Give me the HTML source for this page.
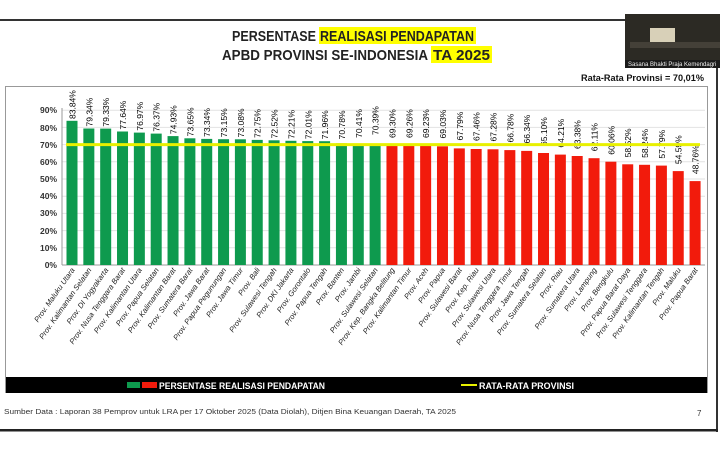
<!DOCTYPE html>
<html><head><meta charset="utf-8"><style>
html,body{margin:0;padding:0;background:#fff;}
body{width:720px;height:450px;overflow:hidden;position:relative;font-family:"Liberation Sans",sans-serif;}
svg{position:absolute;left:0;top:0;}
</style></head><body>
<svg width="720" height="450" viewBox="0 0 720 450" xmlns="http://www.w3.org/2000/svg" font-family="Liberation Sans, sans-serif">
<rect x="0" y="19" width="720" height="2" fill="#333"/>
<rect x="716" y="19" width="2" height="413" fill="#333"/>
<rect x="0" y="429" width="718" height="2.5" fill="#222"/>
<!-- webcam -->
<rect x="625" y="14" width="95" height="54" fill="#2c2a24"/>
<rect x="650" y="28" width="25" height="18" fill="#d8d0b8"/>
<rect x="630" y="42" width="90" height="6" fill="#444038"/>
<rect x="625" y="60" width="95" height="8" fill="#1a1a1a"/>
<text x="628" y="66" font-size="6" fill="#eee">Sasana Bhakti Praja Kemendagri</text>
<!-- title -->
<rect x="319" y="27" width="157" height="17" fill="#ffff00"/>
<rect x="431" y="46" width="61" height="17" fill="#ffff00"/>
<g font-size="15" font-weight="bold" fill="#222">
<text x="232" y="41" textLength="84" lengthAdjust="spacingAndGlyphs">PERSENTASE</text>
<text x="320" y="41" textLength="154" lengthAdjust="spacingAndGlyphs">REALISASI PENDAPATAN</text>
<text x="222" y="60" textLength="206" lengthAdjust="spacingAndGlyphs">APBD PROVINSI SE-INDONESIA</text>
<text x="433" y="60" textLength="57" lengthAdjust="spacingAndGlyphs">TA 2025</text>
</g>
<text x="581" y="81" font-size="9.5" font-weight="bold" fill="#111" textLength="123" lengthAdjust="spacingAndGlyphs">Rata-Rata Provinsi = 70,01%</text>
<!-- frame -->
<rect x="5.5" y="86.5" width="702" height="306" fill="#fff" stroke="#999"/>
<!-- grid -->
<g stroke="#e2e2e2" stroke-width="1">
<line x1="62" x2="705" y1="247.8" y2="247.8"/><line x1="62" x2="705" y1="230.6" y2="230.6"/>
<line x1="62" x2="705" y1="213.4" y2="213.4"/><line x1="62" x2="705" y1="196.2" y2="196.2"/>
<line x1="62" x2="705" y1="179" y2="179"/><line x1="62" x2="705" y1="161.8" y2="161.8"/>
<line x1="62" x2="705" y1="144.6" y2="144.6"/><line x1="62" x2="705" y1="127.4" y2="127.4"/>
<line x1="62" x2="705" y1="110.2" y2="110.2"/>
</g>
<line x1="62" x2="62" y1="108" y2="265" stroke="#999"/>
<line x1="62" x2="705" y1="265" y2="265" stroke="#999"/>
<g font-size="8.5" font-weight="bold" text-anchor="end" fill="#333">
<text x="57" y="268">0%</text><text x="57" y="251">10%</text><text x="57" y="234">20%</text>
<text x="57" y="216">30%</text><text x="57" y="199">40%</text><text x="57" y="182">50%</text>
<text x="57" y="165">60%</text><text x="57" y="148">70%</text><text x="57" y="131">80%</text>
<text x="57" y="113">90%</text>
</g>
<g font-size="8.5">
<g transform="translate(72,265)"><rect x="-5.5" y="-144.2" width="11" height="144.2" fill="#0e9a4e"/><text transform="rotate(-90)" x="146" y="3.5">83.84%</text></g>
<g transform="translate(88.84,265)"><rect x="-5.5" y="-136.5" width="11" height="136.5" fill="#0e9a4e"/><text transform="rotate(-90)" x="138.5" y="3.5">79.34%</text></g>
<g transform="translate(105.68,265)"><rect x="-5.5" y="-136.4" width="11" height="136.4" fill="#0e9a4e"/><text transform="rotate(-90)" x="138.4" y="3.5">79.33%</text></g>
<g transform="translate(122.52,265)"><rect x="-5.5" y="-133.5" width="11" height="133.5" fill="#0e9a4e"/><text transform="rotate(-90)" x="135.5" y="3.5">77.64%</text></g>
<g transform="translate(139.36,265)"><rect x="-5.5" y="-132.4" width="11" height="132.4" fill="#0e9a4e"/><text transform="rotate(-90)" x="134.4" y="3.5">76.97%</text></g>
<g transform="translate(156.2,265)"><rect x="-5.5" y="-131.4" width="11" height="131.4" fill="#0e9a4e"/><text transform="rotate(-90)" x="133.4" y="3.5">76.37%</text></g>
<g transform="translate(173.04,265)"><rect x="-5.5" y="-128.9" width="11" height="128.9" fill="#0e9a4e"/><text transform="rotate(-90)" x="130.9" y="3.5">74.93%</text></g>
<g transform="translate(189.88,265)"><rect x="-5.5" y="-126.7" width="11" height="126.7" fill="#0e9a4e"/><text transform="rotate(-90)" x="128.7" y="3.5">73.65%</text></g>
<g transform="translate(206.72,265)"><rect x="-5.5" y="-126.1" width="11" height="126.1" fill="#0e9a4e"/><text transform="rotate(-90)" x="128.1" y="3.5">73.34%</text></g>
<g transform="translate(223.56,265)"><rect x="-5.5" y="-125.8" width="11" height="125.8" fill="#0e9a4e"/><text transform="rotate(-90)" x="127.8" y="3.5">73.15%</text></g>
<g transform="translate(240.4,265)"><rect x="-5.5" y="-125.7" width="11" height="125.7" fill="#0e9a4e"/><text transform="rotate(-90)" x="127.7" y="3.5">73.08%</text></g>
<g transform="translate(257.24,265)"><rect x="-5.5" y="-125.1" width="11" height="125.1" fill="#0e9a4e"/><text transform="rotate(-90)" x="127.1" y="3.5">72.75%</text></g>
<g transform="translate(274.08,265)"><rect x="-5.5" y="-124.7" width="11" height="124.7" fill="#0e9a4e"/><text transform="rotate(-90)" x="126.7" y="3.5">72.52%</text></g>
<g transform="translate(290.92,265)"><rect x="-5.5" y="-124.2" width="11" height="124.2" fill="#0e9a4e"/><text transform="rotate(-90)" x="126.2" y="3.5">72.21%</text></g>
<g transform="translate(307.76,265)"><rect x="-5.5" y="-123.9" width="11" height="123.9" fill="#0e9a4e"/><text transform="rotate(-90)" x="125.9" y="3.5">72.01%</text></g>
<g transform="translate(324.6,265)"><rect x="-5.5" y="-123.8" width="11" height="123.8" fill="#0e9a4e"/><text transform="rotate(-90)" x="125.8" y="3.5">71.96%</text></g>
<g transform="translate(341.44,265)"><rect x="-5.5" y="-121.7" width="11" height="121.7" fill="#0e9a4e"/><text transform="rotate(-90)" x="125.7" y="3.5">70.78%</text></g>
<g transform="translate(358.28,265)"><rect x="-5.5" y="-121.1" width="11" height="121.1" fill="#0e9a4e"/><text transform="rotate(-90)" x="127.1" y="3.5">70.41%</text></g>
<g transform="translate(375.12,265)"><rect x="-5.5" y="-121.1" width="11" height="121.1" fill="#0e9a4e"/><text transform="rotate(-90)" x="130" y="3.5">70.39%</text></g>
<g transform="translate(391.96,265)"><rect x="-5.5" y="-119.2" width="11" height="119.2" fill="#f21b0c"/><text transform="rotate(-90)" x="127" y="3.5">69.30%</text></g>
<g transform="translate(408.8,265)"><rect x="-5.5" y="-119.1" width="11" height="119.1" fill="#f21b0c"/><text transform="rotate(-90)" x="127" y="3.5">69.26%</text></g>
<g transform="translate(425.64,265)"><rect x="-5.5" y="-119.1" width="11" height="119.1" fill="#f21b0c"/><text transform="rotate(-90)" x="127" y="3.5">69.23%</text></g>
<g transform="translate(442.48,265)"><rect x="-5.5" y="-118.7" width="11" height="118.7" fill="#f21b0c"/><text transform="rotate(-90)" x="126.5" y="3.5">69.03%</text></g>
<g transform="translate(459.32,265)"><rect x="-5.5" y="-116.6" width="11" height="116.6" fill="#f21b0c"/><text transform="rotate(-90)" x="124.5" y="3.5">67.79%</text></g>
<g transform="translate(476.16,265)"><rect x="-5.5" y="-116" width="11" height="116" fill="#f21b0c"/><text transform="rotate(-90)" x="124" y="3.5">67.46%</text></g>
<g transform="translate(493,265)"><rect x="-5.5" y="-115.7" width="11" height="115.7" fill="#f21b0c"/><text transform="rotate(-90)" x="123.5" y="3.5">67.28%</text></g>
<g transform="translate(509.84,265)"><rect x="-5.5" y="-114.9" width="11" height="114.9" fill="#f21b0c"/><text transform="rotate(-90)" x="122.5" y="3.5">66.78%</text></g>
<g transform="translate(526.68,265)"><rect x="-5.5" y="-114.1" width="11" height="114.1" fill="#f21b0c"/><text transform="rotate(-90)" x="121.5" y="3.5">66.34%</text></g>
<g transform="translate(543.52,265)"><rect x="-5.5" y="-112" width="11" height="112" fill="#f21b0c"/><text transform="rotate(-90)" x="119" y="3.5">65.10%</text></g>
<g transform="translate(560.36,265)"><rect x="-5.5" y="-110.4" width="11" height="110.4" fill="#f21b0c"/><text transform="rotate(-90)" x="117.4" y="3.5">64.21%</text></g>
<g transform="translate(577.2,265)"><rect x="-5.5" y="-109" width="11" height="109" fill="#f21b0c"/><text transform="rotate(-90)" x="116" y="3.5">63.38%</text></g>
<g transform="translate(594.04,265)"><rect x="-5.5" y="-106.8" width="11" height="106.8" fill="#f21b0c"/><text transform="rotate(-90)" x="113.8" y="3.5">62.11%</text></g>
<g transform="translate(610.88,265)"><rect x="-5.5" y="-103.3" width="11" height="103.3" fill="#f21b0c"/><text transform="rotate(-90)" x="110.3" y="3.5">60.06%</text></g>
<g transform="translate(627.72,265)"><rect x="-5.5" y="-100.7" width="11" height="100.7" fill="#f21b0c"/><text transform="rotate(-90)" x="107.7" y="3.5">58.52%</text></g>
<g transform="translate(644.56,265)"><rect x="-5.5" y="-100.2" width="11" height="100.2" fill="#f21b0c"/><text transform="rotate(-90)" x="107.2" y="3.5">58.24%</text></g>
<g transform="translate(661.4,265)"><rect x="-5.5" y="-99.4" width="11" height="99.4" fill="#f21b0c"/><text transform="rotate(-90)" x="106.4" y="3.5">57.79%</text></g>
<g transform="translate(678.24,265)"><rect x="-5.5" y="-93.9" width="11" height="93.9" fill="#f21b0c"/><text transform="rotate(-90)" x="100.9" y="3.5">54.59%</text></g>
<g transform="translate(695.08,265)"><rect x="-5.5" y="-83.9" width="11" height="83.9" fill="#f21b0c"/><text transform="rotate(-90)" x="90.9" y="3.5">48.76%</text></g>
</g>
<line x1="66" x2="700" y1="144.6" y2="144.6" stroke="#e8f000" stroke-width="3"/>
<g font-size="7.6" font-style="italic" text-anchor="end" fill="#222">
<text transform="translate(75,270) rotate(-55)">Prov. Maluku Utara</text>
<text transform="translate(91.84,270) rotate(-55)">Prov. Kalimantan Selatan</text>
<text transform="translate(108.68,270) rotate(-55)">Prov. DI Yogyakarta</text>
<text transform="translate(125.52,270) rotate(-55)">Prov. Nusa Tenggara Barat</text>
<text transform="translate(142.36,270) rotate(-55)">Prov. Kalimantan Utara</text>
<text transform="translate(159.2,270) rotate(-55)">Prov. Papua Selatan</text>
<text transform="translate(176.04,270) rotate(-55)">Prov. Kalimantan Barat</text>
<text transform="translate(192.88,270) rotate(-55)">Prov. Sumatera Barat</text>
<text transform="translate(209.72,270) rotate(-55)">Prov. Jawa Barat</text>
<text transform="translate(226.56,270) rotate(-55)">Prov. Papua Pegunungan</text>
<text transform="translate(243.4,270) rotate(-55)">Prov. Jawa Timur</text>
<text transform="translate(260.24,270) rotate(-55)">Prov. Bali</text>
<text transform="translate(277.08,270) rotate(-55)">Prov. Sulawesi Tengah</text>
<text transform="translate(293.92,270) rotate(-55)">Prov. DKI Jakarta</text>
<text transform="translate(310.76,270) rotate(-55)">Prov. Gorontalo</text>
<text transform="translate(327.6,270) rotate(-55)">Prov. Papua Tengah</text>
<text transform="translate(344.44,270) rotate(-55)">Prov. Banten</text>
<text transform="translate(361.28,270) rotate(-55)">Prov. Jambi</text>
<text transform="translate(378.12,270) rotate(-55)">Prov. Sulawesi Selatan</text>
<text transform="translate(394.96,270) rotate(-55)">Prov. Kep. Bangka Belitung</text>
<text transform="translate(411.8,270) rotate(-55)">Prov. Kalimantan Timur</text>
<text transform="translate(428.64,270) rotate(-55)">Prov. Aceh</text>
<text transform="translate(445.48,270) rotate(-55)">Prov. Papua</text>
<text transform="translate(462.32,270) rotate(-55)">Prov. Sulawesi Barat</text>
<text transform="translate(479.16,270) rotate(-55)">Prov. Kep. Riau</text>
<text transform="translate(496,270) rotate(-55)">Prov. Sulawesi Utara</text>
<text transform="translate(512.84,270) rotate(-55)">Prov. Nusa Tenggara Timur</text>
<text transform="translate(529.68,270) rotate(-55)">Prov. Jawa Tengah</text>
<text transform="translate(546.52,270) rotate(-55)">Prov. Sumatera Selatan</text>
<text transform="translate(563.36,270) rotate(-55)">Prov. Riau</text>
<text transform="translate(580.2,270) rotate(-55)">Prov. Sumatera Utara</text>
<text transform="translate(597.04,270) rotate(-55)">Prov. Lampung</text>
<text transform="translate(613.88,270) rotate(-55)">Prov. Bengkulu</text>
<text transform="translate(630.72,270) rotate(-55)">Prov. Papua Barat Daya</text>
<text transform="translate(647.56,270) rotate(-55)">Prov. Sulawesi Tenggara</text>
<text transform="translate(664.4,270) rotate(-55)">Prov. Kalimantan Tengah</text>
<text transform="translate(681.24,270) rotate(-55)">Prov. Maluku</text>
<text transform="translate(698.08,270) rotate(-55)">Prov. Papua Barat</text>
</g>
<!-- legend -->
<rect x="6" y="377" width="701" height="16" fill="#000"/>
<rect x="127" y="382" width="13" height="6" fill="#0e9a4e"/>
<rect x="142" y="382" width="15" height="6" fill="#f21b0c"/>
<text x="159" y="389" font-size="9.5" font-weight="bold" fill="#fff" textLength="166" lengthAdjust="spacingAndGlyphs">PERSENTASE REALISASI PENDAPATAN</text>
<rect x="461" y="384" width="16" height="2" fill="#e8f000"/>
<text x="479" y="389" font-size="9.5" font-weight="bold" fill="#fff" textLength="95" lengthAdjust="spacingAndGlyphs">RATA-RATA PROVINSI</text>
<text x="4" y="414" font-size="7.6" fill="#333" textLength="452" lengthAdjust="spacingAndGlyphs">Sumber Data : Laporan 38 Pemprov untuk LRA per 17 Oktober 2025 (Data Diolah), Ditjen Bina Keuangan Daerah, TA 2025</text>
<text x="697" y="416" font-size="8" fill="#333">7</text>
</svg>
</body></html>
